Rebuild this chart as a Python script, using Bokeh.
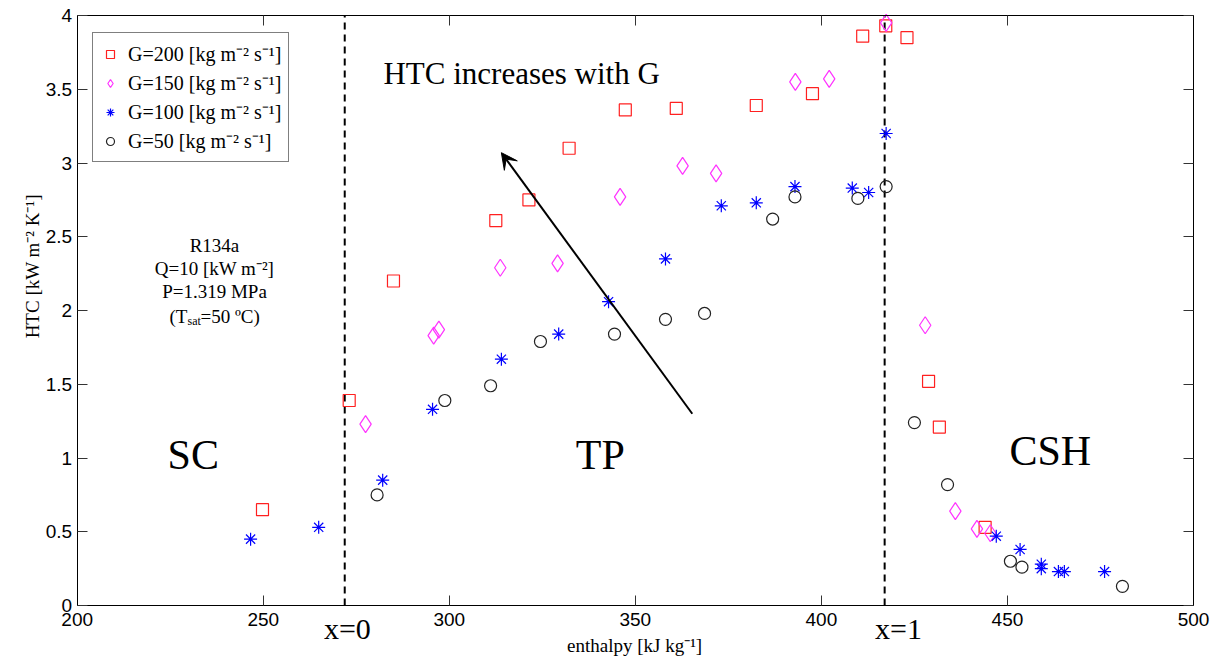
import math
from bokeh.plotting import figure
from bokeh.models import (Range1d, LinearAxis, Legend, LegendItem, Label, Arrow,
                          VeeHead, FixedTicker)
from bokeh.embed import file_html
from bokeh.resources import INLINE

# ---------------- data ----------------
G200_h = [249.8, 273.1, 285.0, 312.5, 321.4, 332.2, 347.3, 361.0, 382.5, 397.6,
          411.1, 417.3, 423.0, 428.8, 431.7, 444.0]
G200_htc = [0.65, 1.39, 2.20, 2.61, 2.75, 3.10, 3.36, 3.37, 3.39, 3.47,
            3.86, 3.93, 3.85, 1.52, 1.21, 0.53]

G150_h = [277.5, 295.8, 297.2, 313.7, 329.1, 345.9, 362.7, 371.7, 393.0, 402.1,
          417.4, 427.9, 436.0, 441.8, 445.4]
G150_htc = [1.23, 1.83, 1.87, 2.29, 2.32, 2.77, 2.98, 2.93, 3.55, 3.57,
            3.95, 1.90, 0.64, 0.52, 0.49]

G100_h = [246.6, 264.9, 282.1, 295.5, 314.0, 329.4, 342.8, 358.1, 373.1, 382.5,
          392.9, 408.3, 412.7, 417.4, 447.0, 453.4, 459.1, 459.1, 463.7, 465.3, 476.1]
G100_htc = [0.45, 0.53, 0.85, 1.33, 1.67, 1.84, 2.06, 2.35, 2.71, 2.73,
            2.84, 2.83, 2.80, 3.20, 0.47, 0.38, 0.28, 0.25, 0.23, 0.23, 0.23]

G50_h = [280.6, 298.8, 311.1, 324.5, 344.4, 358.1, 368.6, 386.9, 392.9, 409.8,
         417.4, 425.0, 433.9, 450.8, 453.9, 480.9]
G50_htc = [0.75, 1.39, 1.49, 1.79, 1.84, 1.94, 1.98, 2.62, 2.77, 2.76,
           2.84, 1.24, 0.82, 0.30, 0.26, 0.13]

series_labels = ["G=200 [kg m\u207b\u00b2 s\u207b\u00b9]",
                 "G=150 [kg m\u207b\u00b2 s\u207b\u00b9]",
                 "G=100 [kg m\u207b\u00b2 s\u207b\u00b9]",
                 "G=50 [kg m\u207b\u00b2 s\u207b\u00b9]"]

x_ticks = [200, 250, 300, 350, 400, 450, 500]
y_ticks = [0, 0.5, 1, 1.5, 2, 2.5, 3, 3.5, 4]

quality_bounds = [271.9, 417.0]          # enthalpy at x=0 and x=1
quality_labels = ["x=0", "x=1"]
quality_label_pos = [272.6, 420.7]
region_names = ["SC", "TP", "CSH"]

SERIF = "Liberation Serif"
SANS = "Liberation Sans"

X_LO, X_HI = x_ticks[0], x_ticks[-1]
Y_LO, Y_HI = y_ticks[0], y_ticks[-1]

# ---------------- figure ----------------
# The frame fills the whole canvas; the axis box is drawn with axes at fixed
# locations, so that every text around the box can be placed freely.
p = figure(width=1210, height=659, x_range=Range1d(179.39, 504.57),
           y_range=Range1d(-0.366, 4.1017),
           output_backend="svg", toolbar_location=None, min_border=0)
p.background_fill_color = "white"
p.border_fill_color = "white"
p.outline_line_color = None
p.xgrid.visible = False
p.ygrid.visible = False


def style_axis(ax, ticks, labels=True):
    ax.ticker = FixedTicker(ticks=ticks)
    ax.major_tick_in = 10
    ax.major_tick_out = 0
    ax.minor_tick_line_color = None
    ax.axis_line_color = "black"
    ax.major_tick_line_color = "#333333"
    if labels:
        ax.major_label_text_font = SANS
        ax.major_label_text_font_size = "19px"
        ax.major_label_text_color = "black"
    else:
        ax.major_label_text_font_size = "1px"
        ax.major_label_text_color = None
        ax.major_label_standoff = 0


xax = p.xaxis[0]
yax = p.yaxis[0]
style_axis(xax, x_ticks)
style_axis(yax, y_ticks)
xax.fixed_location = Y_LO
xax.bounds = (X_LO, X_HI)
xax.major_label_standoff = 7
yax.fixed_location = X_LO
yax.bounds = (Y_LO, Y_HI)
yax.major_label_standoff = 5

top = LinearAxis(fixed_location=Y_HI, bounds=(X_LO, X_HI))
style_axis(top, x_ticks, labels=False)
p.add_layout(top, "above")
right = LinearAxis(fixed_location=X_HI, bounds=(Y_LO, Y_HI))
style_axis(right, y_ticks, labels=False)
p.add_layout(right, "right")

# boundaries x=0 and x=1
p.segment(x0=quality_bounds, y0=[Y_LO] * 2, x1=quality_bounds, y1=[Y_HI] * 2,
          line_color="black", line_width=2, line_dash="7 5")

# ---------------- series ----------------
r200 = p.scatter(G200_h, G200_htc, marker="square", size=12, fill_color=None,
                 line_color="#ff2020", line_width=1.2)
r150 = p.scatter(G150_h, G150_htc, marker="diamond", size=17, fill_color=None,
                 line_color="#ff33ff", line_width=1.2)
r100 = p.scatter(G100_h, G100_htc, marker="asterisk", size=13, fill_color=None,
                 line_color="#0000ff", line_width=1.2)
r50 = p.scatter(G50_h, G50_htc, marker="circle", size=12, fill_color=None,
                line_color="#222222", line_width=1.2)

# legend box: screen position (left, bottom) in pixels from the canvas' bottom-left
legend = Legend(items=[LegendItem(label=series_labels[0], renderers=[r200]),
                       LegendItem(label=series_labels[1], renderers=[r150]),
                       LegendItem(label=series_labels[2], renderers=[r100]),
                       LegendItem(label=series_labels[3], renderers=[r50])],
                location=(92, 497), padding=7, spacing=2,
                glyph_height=20, glyph_width=20, label_height=20, label_standoff=8,
                label_text_font=SERIF, label_text_font_size="20px",
                label_text_color="black", border_line_color="black",
                border_line_width=1, background_fill_color="white",
                background_fill_alpha=1.0)
p.add_layout(legend)

# ---------------- annotations ----------------
def lab(x, y, text, size, align="center", xo=0, yo=0, angle=0):
    p.add_layout(Label(x=x, y=y, text=text, text_font=SERIF, text_font_size=size,
                       text_align=align, text_baseline="middle", angle=angle,
                       x_offset=xo, y_offset=yo, text_color="black"))

# axis titles and x=0 / x=1 under the axis
lab(349.8, -0.271, "enthalpy [kJ kg\u207b\u00b9]", "19px")
lab(187.9, 2.30, "HTC [kW m\u207b\u00b2 K\u207b\u00b9]", "19px", angle=math.pi / 2)
lab(quality_label_pos[0], -0.156, quality_labels[0], "30px")
lab(quality_label_pos[1], -0.156, quality_labels[1], "30px")

# region names
lab(231.2, 1.02, region_names[0], "42px")
lab(340.6, 1.02, region_names[1], "42px")
lab(461.5, 1.05, region_names[2], "42px")

# headline
lab(282.3, 3.61, "HTC increases with G", "31px", align="left")

# conditions block
lab(236.9, 2.44, "R134a", "19px")
lab(236.9, 2.285, "Q=10 [kW m\u207b\u00b2]", "19px")
lab(236.9, 2.13, "P=1.319 MPa", "19px")
lab(236.9, 1.96, "(T", "19px", align="left", xo=-45)
lab(236.9, 1.96, "sat", "12px", align="left", xo=-27, yo=-5)
lab(236.9, 1.96, "=50 \u00baC)", "19px", align="left", xo=-14)

# arrow
arrow_from = (365.3, 1.30)
arrow_to = (314.0, 3.07)
p.add_layout(Arrow(end=VeeHead(size=16, fill_color="black", line_color="black"),
                   x_start=arrow_from[0], y_start=arrow_from[1],
                   x_end=arrow_to[0], y_end=arrow_to[1],
                   line_color="black", line_width=2))

open("out.html", "w").write(file_html(p, INLINE))
